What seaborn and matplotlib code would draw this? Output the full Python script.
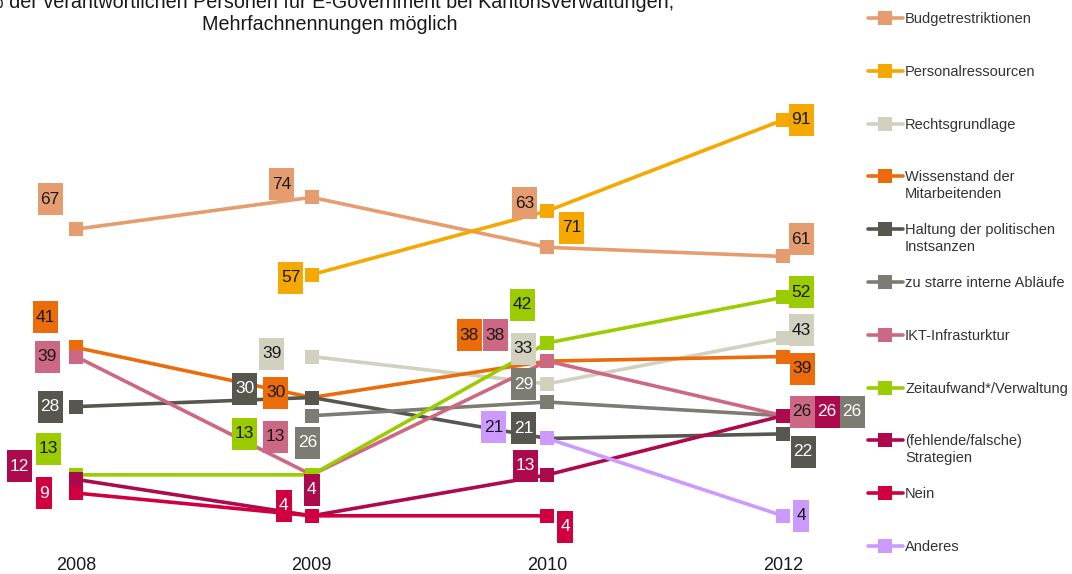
import numpy as np
import pandas as pd
import seaborn as sns
import matplotlib.pyplot as plt
from matplotlib.patches import Rectangle
from matplotlib.lines import Line2D

# data (%), NaN = not asked that year
years = ['2008', '2009', '2010', '2012']
series_names = ['Budgetrestriktionen', 'Personalressourcen', 'Rechtsgrundlage',
                'Wissenstand der\nMitarbeitenden', 'Haltung der politischen\nInstsanzen',
                'zu starre interne Abläufe', 'IKT-Infrasturktur', 'Zeitaufwand*/Verwaltung',
                '(fehlende/falsche)\nStrategien', 'Nein', 'Anderes']
budget = [67, 74, 63, 61]
personal = [np.nan, 57, 71, 91]
rechts = [np.nan, 39, 33, 43]
wissen = [41, 30, 38, 39]
haltung = [28, 30, 21, 22]
starre = [np.nan, 26, 29, 26]
ikt = [39, 13, 38, 26]
zeit = [13, 13, 42, 52]
strategien = [12, 4, 13, 26]
nein = [9, 4, 4, np.nan]
anderes = [np.nan, np.nan, 21, 4]
all_values = [budget, personal, rechts, wissen, haltung, starre, ikt, zeit,
              strategien, nein, anderes]

colors = ['#E59D70', '#F5A800', '#D2D0BF', '#EA6C0B', '#57574F', '#7C7C72',
          '#CC6883', '#9ACC00', '#AD0A4E', '#D00040', '#CC99FF']
white_text = {4, 5, 8, 9}

# label box offsets from the marker, in pixels (dx right, dy down)
offsets = [
    [(-26, -30), (-30, -13), (-23, -44), (18, -17)],
    [None, (-21, 3), (24, 17), (18, 0)],
    [None, (-40, -3), (-24, -35), (18, -8)],
    [(-31, -30), (-36, -5), (-78, -26), (19, 12)],
    [(-26, 0), (-67, -9), (-24, -10), (20, 18)],
    [None, (-4, 27), (-24, -18), (69, -4)],
    [(-29, 0), (-36, -38), (-52, -26), (19, -4)],
    [(-28, -26), (-67, -41), (-25, -38), (18, -5)],
    [(-57, -13), (0, -26), (-22, -9), (44, -4)],
    [(-32, 0), (-28, -10), (18, 11), None],
    [None, None, (-54, -11), (18, 0)],
]

rows = []
for name, vals in zip(series_names, all_values):
    for i, v in enumerate(vals):
        rows.append({'series': name, 'pos': i, 'value': v})
df = pd.DataFrame(rows).dropna()

sns.set_theme(style='white')
plt.rcParams['font.family'] = ['Liberation Sans', 'DejaVu Sans']

W, H = 1072, 574
fig = plt.figure(figsize=(W / 100, H / 100), dpi=100)
ax = fig.add_axes([0, 0, 1, 1])

# pixel mapping: x=0 -> 76px, x=3 -> 783px ; y px = 534 - 4.55*v
xs = (783 - 76) / 3.0
ys = 4.55
ax.set_xlim(-76 / xs, (W - 76) / xs)
ax.set_ylim((534 - H) / ys, 534 / ys)
ax.axis('off')

sns.lineplot(data=df, x='pos', y='value', hue='series', hue_order=series_names,
             palette=dict(zip(series_names, colors)), marker='s', markersize=9.5,
             markeredgewidth=0, linewidth=2.6, sort=False, legend=False, ax=ax)

# value boxes
for k, vals in enumerate(all_values):
    for i, v in enumerate(vals):
        if np.isnan(v) or offsets[k][i] is None:
            continue
        dx, dy = offsets[k][i]
        cx = i + dx / xs
        cy = v - dy / ys
        txt = str(int(v))
        bw = (16 if len(txt) == 1 else 25) / xs
        bh = 32 / ys
        ax.add_patch(Rectangle((cx - bw / 2, cy - bh / 2), bw, bh,
                               facecolor=colors[k], edgecolor='none', zorder=5))
        ax.text(cx, cy, txt, ha='center', va='center', fontsize=12.5,
                color='white' if k in white_text else '#1a1a1a', zorder=6)

# year labels
for i, y in enumerate(years):
    ax.text(i, (534 - 565) / ys, y, ha='center', va='center', fontsize=13,
            color='#1a1a1a')

# title (first line cut by the top edge, as in the source)
fig.text(330 / W, 1 - 3 / H,
         '% der verantwortlichen Personen für E-Government bei Kantonsverwaltungen,',
         ha='center', va='center', fontsize=14.2, color='#1a1a1a')
fig.text(330 / W, 1 - 25 / H, 'Mehrfachnennungen möglich',
         ha='center', va='center', fontsize=14.2, color='#1a1a1a')

# legend on the right
for k, name in enumerate(series_names):
    ypx = 18 + k * 52.8
    yf = 1 - ypx / H
    fig.add_artist(Line2D([868 / W, 903 / W], [yf, yf], color=colors[k], lw=2.6))
    fig.add_artist(Line2D([885 / W], [yf], color=colors[k], marker='s',
                          markersize=9.5, markeredgewidth=0))
    for j, line in enumerate(name.split('\n')):
        fig.text(905 / W, 1 - (ypx + 5 + 16.5 * j) / H, line, ha='left',
                 va='baseline', fontsize=10.5, color='#333333')

fig.savefig('out.png', dpi=100)
